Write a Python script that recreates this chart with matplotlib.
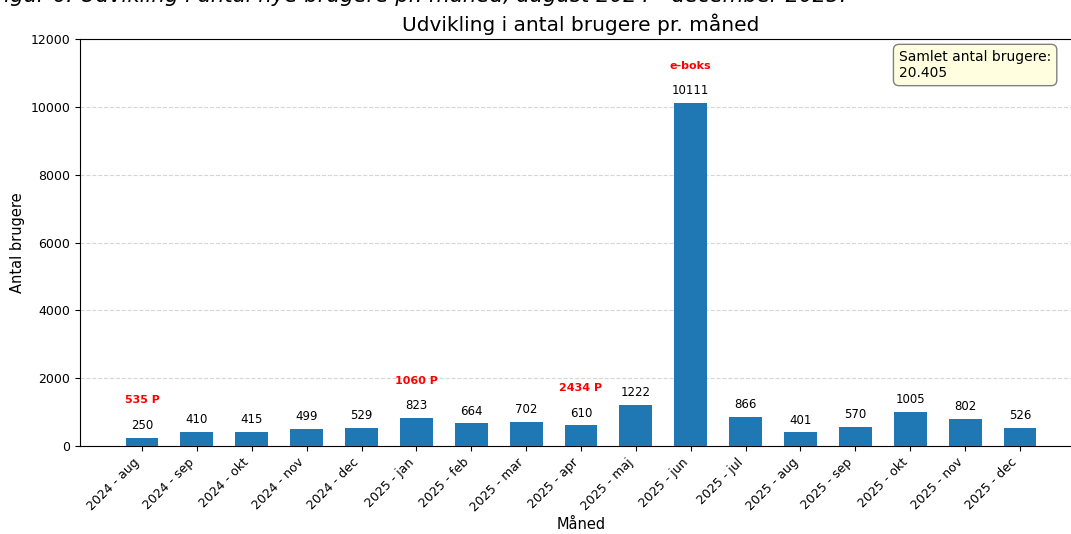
import matplotlib
matplotlib.use("Agg")
import matplotlib.pyplot as plt
import numpy as np

months = ["2024 - aug", "2024 - sep", "2024 - okt", "2024 - nov", "2024 - dec",
          "2025 - jan", "2025 - feb", "2025 - mar", "2025 - apr", "2025 - maj",
          "2025 - jun", "2025 - jul", "2025 - aug", "2025 - sep", "2025 - okt",
          "2025 - nov", "2025 - dec"]
users = [250, 410, 415, 499, 529, 823, 664, 702, 610, 1222, 10111, 866, 401, 570, 1005, 802, 526]
events_idx = [0, 5, 8, 10]
events_txt = ["535 P", "1060 P", "2434 P", "e-boks"]

fig = plt.figure(figsize=(10.71, 5.34), dpi=100)
ax = fig.add_axes([80/1071, 88/534, (1082-80)/1071, (495-88)/534])

x = np.arange(len(months))
ax.bar(x, users, width=0.6, color="#1f77b4", zorder=3)
ax.set_ylim(0, 12000)
ax.set_yticks(np.arange(0, 12001, 2000))
ax.grid(axis="y", linestyle="--", color="#cccccc", alpha=0.8, zorder=0)
ax.set_xticks(x)
ax.set_xticklabels(months, rotation=45, ha="right", fontsize=9)
ax.tick_params(axis="y", labelsize=9)
for xi, v in zip(x, users):
    ax.text(xi, v + 170, str(v), ha="center", va="bottom", fontsize=8.5)
for i, t in zip(events_idx, events_txt):
    ax.text(x[i], users[i] + 1100, t, ha="center", va="center", fontsize=8,
            color="red", fontweight="bold")

ax.set_title("Udvikling i antal brugere pr. måned", fontsize=14.5, pad=6)
ax.set_xlabel("Måned", fontsize=10.5, labelpad=2)
ax.set_ylabel("Antal brugere", fontsize=10.5)

total = sum(users)
total_str = f"{total:,}".replace(",", ".")
fig.text(899/1071, 1 - 65/534, f"Samlet antal brugere:\n{total_str}", ha="left", va="center",
         fontsize=10, bbox=dict(boxstyle="round,pad=0.4", facecolor="#ffffe0",
                                edgecolor="gray"))

fig.text(-8/1071, 1 - 2/534, "Figur 6: Udvikling i antal nye brugere pr. måned, august 2024 - december 2025.",
         ha="left", va="baseline", fontsize=15.3, style="italic")

fig.savefig("out.png", dpi=100)
